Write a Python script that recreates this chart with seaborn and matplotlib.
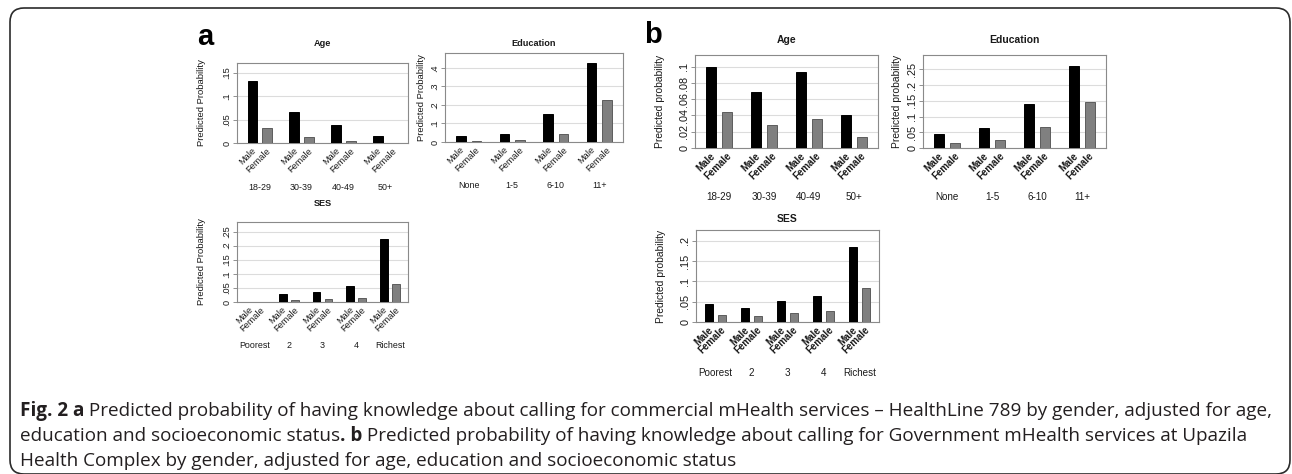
import numpy as np
import pandas as pd
import matplotlib
matplotlib.use("Agg")
import matplotlib.pyplot as plt
import seaborn as sns
from matplotlib.patches import FancyBboxPatch
from matplotlib.transforms import blended_transform_factory, IdentityTransform

# ---------------------------------------------------------------- data
sexes = ["Male", "Female"]

age_groups = ["18-29", "30-39", "40-49", "50+"]
edu_groups = ["None", "1-5", "6-10", "11+"]
ses_groups = ["Poorest", "2", "3", "4", "Richest"]

# (a) knowledge about calling commercial mHealth services (HealthLine 789)
a_age_male = [0.132, 0.066, 0.039, 0.015]
a_age_female = [0.032, 0.0135, 0.005, 0.001]
a_edu_male = [0.034, 0.041, 0.149, 0.429]
a_edu_female = [0.007, 0.009, 0.045, 0.226]
a_ses_male = [0.001, 0.027, 0.034, 0.057, 0.225]
a_ses_female = [0.001, 0.008, 0.009, 0.014, 0.064]

# (b) knowledge about calling government mHealth services (Upazila Health Complex)
b_age_male = [0.0992, 0.0683, 0.0929, 0.0402]
b_age_female = [0.0444, 0.0284, 0.0361, 0.013]
b_edu_male = [0.0457, 0.0628, 0.1415, 0.2596]
b_edu_female = [0.017, 0.0266, 0.067, 0.1468]
b_ses_male = [0.0434, 0.0344, 0.0516, 0.064, 0.186]
b_ses_female = [0.018, 0.014, 0.0213, 0.0279, 0.0836]

a_age_ticks = [0, 0.05, 0.10, 0.15]
a_edu_ticks = [0, 0.1, 0.2, 0.3, 0.4]
a_ses_ticks = [0, 0.05, 0.10, 0.15, 0.20, 0.25]
b_age_ticks = [0, 0.02, 0.04, 0.06, 0.08, 0.10]
b_edu_ticks = [0, 0.05, 0.10, 0.15, 0.20, 0.25]
b_ses_ticks = [0, 0.05, 0.10, 0.15, 0.20]

caption_lines = [
    [("Fig. 2 a", "bold"),
     (" Predicted probability of having knowledge about calling for commercial mHealth services \u2013 "
      "HealthLine 789 by gender, adjusted for age,", "normal")],
    [("education and socioeconomic status", "normal"), (". b", "bold"),
     (" Predicted probability of having knowledge about calling for Government mHealth services at Upazila",
      "normal")],
    [("Health Complex by gender, adjusted for age, education and socioeconomic status", "normal")],
]

# ---------------------------------------------------------------- figure
W, H, DPI = 1292, 474, 100
sns.set_theme(style="white")
plt.rcParams["font.family"] = ["Liberation Sans", "DejaVu Sans"]
fig = plt.figure(figsize=(W / DPI, H / DPI), dpi=DPI)
fig.patch.set_facecolor("white")

TEXT = "#1a1a1a"
PT = 72.0 / DPI  # points per pixel


def px_rect(l, t, r, b):
    return [l / W, 1 - b / H, (r - l) / W, (b - t) / H]


def fmt_tick(v):
    return "0" if v == 0 else f"{v:g}".lstrip("0")


STYLES = {
    "a": dict(tick=6.6, ylab=6.8, title=6.6, bar=6.6, barw="normal", group=6.4,
              ylabel="Predicted Probability"),
    "b": dict(tick=7.8, ylab=7.4, title=7.5, bar=7.0, barw="bold", group=7.1,
              ylabel="Predicted probability"),
}


def draw_panel(rect, groups, male, female, title, ymax, ticks, style,
               title_dy, ylab_dx, group_dy):
    st = STYLES[style]
    l, t, r, b = rect
    w_px, h_px = r - l, b - t
    ax = fig.add_axes(px_rect(l, t, r, b))
    n = len(groups)
    df = pd.DataFrame({
        "group": groups * 2,
        "sex": ["Male"] * n + ["Female"] * n,
        "prob": list(male) + list(female),
    })
    sns.barplot(data=df, x="group", y="prob", hue="sex", order=groups,
                hue_order=sexes, palette={"Male": "#000000", "Female": "#808080"},
                saturation=1, width=0.714, gap=0.38, errorbar=None,
                legend=False, ax=ax, zorder=3)
    edge = {"Male": "#000000", "Female": "#5c5c5c"}
    for cont, sex in zip(ax.containers, sexes):
        for p in cont:
            p.set_edgecolor(edge[sex])
            p.set_linewidth(0.7)

    ax.set_xlim(-0.54, n - 0.46)
    ax.set_ylim(0, ymax)
    ax.set_yticks(ticks)
    ax.set_yticklabels([fmt_tick(v) for v in ticks], rotation=90, va="center",
                       fontsize=st["tick"], color=TEXT)
    ax.tick_params(axis="y", left=True, length=3, width=0.6, color="#808080",
                   pad=1.2)
    ax.set_xticks(range(n))
    ax.set_xticklabels(groups, fontsize=st["group"], color=TEXT, va="center")
    ax.tick_params(axis="x", length=0, pad=group_dy * PT)
    ax.set_xlabel("")
    ax.set_ylabel(st["ylabel"], fontsize=st["ylab"], color=TEXT, va="center")
    ax.yaxis.set_label_coords(-ylab_dx / w_px, 0.5)

    ax.grid(axis="y", color="#dcdcdc", linewidth=0.8, zorder=0)
    ax.set_axisbelow(True)
    for s in ax.spines.values():
        s.set_color("#8a8a8a")
        s.set_linewidth(0.8)

    ax.text(0.5, 1 + title_dy / h_px, title, transform=ax.transAxes,
            ha="center", va="center", fontsize=st["title"], fontweight="bold",
            color=TEXT)

    trans = blended_transform_factory(ax.transData, ax.transAxes)
    for cont, sex in zip(ax.containers, sexes):
        for p in cont:
            cx = p.get_x() + p.get_width() / 2
            ax.annotate(sex, xy=(cx, 0), xycoords=trans, xytext=(-1, -3),
                        textcoords="offset pixels", rotation=45, ha="right",
                        va="top", rotation_mode="anchor", fontsize=st["bar"],
                        fontweight=st["barw"], color=TEXT, annotation_clip=False)
    return ax


# panel a
draw_panel((237, 63, 408, 143), age_groups, a_age_male, a_age_female, "Age",
           0.171, a_age_ticks, "a", 19, 35, 45)
draw_panel((445, 53, 623, 142), edu_groups, a_edu_male, a_edu_female, "Education",
           0.481, a_edu_ticks, "a", 10, 23, 44)
draw_panel((237, 222, 408, 302), ses_groups, a_ses_male, a_ses_female, "SES",
           0.284, a_ses_ticks, "a", 18, 35, 43)

# panel b
draw_panel((695, 55, 878, 148), age_groups, b_age_male, b_age_female, "Age",
           0.1144, b_age_ticks, "b", 15, 35, 49)
draw_panel((923, 55, 1106, 148), edu_groups, b_edu_male, b_edu_female, "Education",
           0.296, b_edu_ticks, "b", 15, 26, 49)
draw_panel((696, 230, 879, 322), ses_groups, b_ses_male, b_ses_female, "SES",
           0.227, b_ses_ticks, "b", 11, 35, 51)

# panel letters
fig.text(205 / W, 1 - 37 / H, "a", fontsize=21, fontweight="bold",
         ha="center", va="center", color="#000000")
fig.text(653 / W, 1 - 35 / H, "b", fontsize=21, fontweight="bold",
         ha="center", va="center", color="#000000")

# caption, drawn piece by piece so bold and regular runs share one line
cap_family = ["Open Sans", "DejaVu Sans"]
cap_left, cap_right = 20.0, 1276.0
renderer = fig.canvas.get_renderer()


def run_width(line, size):
    total = 0.0
    for txt, weight in line:
        tmp = fig.text(0, 0, txt, fontsize=size, fontweight=weight,
                       family=cap_family)
        total += tmp.get_window_extent(renderer=renderer).width
        tmp.remove()
    return total


cap_size = 10.0 * (cap_right - cap_left) / run_width(caption_lines[0], 10.0)

for line, y_px in zip(caption_lines, [416, 441, 466]):
    x_px = cap_left
    for txt, weight in line:
        tobj = fig.text(x_px / W, 1 - y_px / H, txt, fontsize=cap_size,
                        fontweight=weight, family=cap_family, ha="left",
                        va="baseline", color="#231f20")
        x_px += tobj.get_window_extent(renderer=renderer).width

# rounded frame around the figure
frame = FancyBboxPatch((10, 0), 1280, 466,
                       boxstyle="round,pad=0,rounding_size=14",
                       transform=IdentityTransform(), fill=False,
                       edgecolor="#2b2b2b", linewidth=1.2)
fig.add_artist(frame)

fig.savefig("out.png", dpi=DPI, facecolor="white")
